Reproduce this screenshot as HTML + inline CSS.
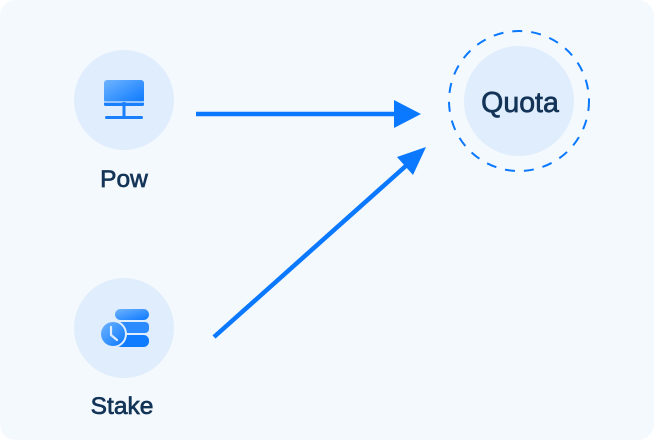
<!DOCTYPE html>
<html><head><style>
html,body{margin:0;padding:0;background:#fff;}
</style></head><body>
<svg width="654" height="440" viewBox="0 0 654 440" xmlns="http://www.w3.org/2000/svg" style="display:block">
<defs>
<linearGradient id="g" x1="0" y1="0" x2="1" y2="1">
<stop offset="0" stop-color="#6fb4ff"/><stop offset="1" stop-color="#0a78ff"/>
</linearGradient>
</defs>
<rect x="0" y="0" width="654" height="440" rx="16" fill="#f4f9fe"/>
<circle cx="124" cy="100" r="50" fill="#e0edfc"/>
<circle cx="124" cy="328" r="50" fill="#e0edfc"/>
<circle cx="519" cy="101" r="55" fill="#e0edfc"/>
<circle cx="519" cy="101" r="70" fill="none" stroke="#0a78ff" stroke-width="2" stroke-dasharray="10 9"/>
<!-- monitor icon -->
<rect x="104" y="80" width="40" height="23" rx="3" fill="url(#g)"/>
<rect x="104" y="101" width="40" height="5" rx="1.5" fill="#1a7ffd"/>
<line x1="104" y1="102" x2="144" y2="102" stroke="#e0edfc" stroke-width="1.2"/>
<rect x="122.5" y="102" width="3" height="14" fill="#1a7ffd"/>
<rect x="105" y="116" width="38" height="3" rx="1.5" fill="#1a7ffd"/>
<!-- stake icon -->
<rect x="115" y="309" width="34" height="11" rx="5.5" fill="url(#g)"/>
<rect x="115" y="322" width="34" height="11" rx="4" fill="#2a8aff"/>
<rect x="115" y="335" width="34" height="12" rx="5.5" fill="#0f7bff"/>
<circle cx="113" cy="334" r="14" fill="#e0edfc"/>
<circle cx="113" cy="334" r="12" fill="url(#g)"/>
<path d="M111 327 L111 335 L117 340" stroke="#e0edfc" stroke-width="2.2" fill="none" stroke-linecap="round" stroke-linejoin="round"/>
<!-- arrows -->
<line x1="196" y1="114" x2="398" y2="114" stroke="#0a78ff" stroke-width="4.5"/>
<polygon points="394,100 421,114 394,128" fill="#0a78ff"/>
<line x1="214" y1="337" x2="408" y2="164" stroke="#0a78ff" stroke-width="4.5"/>
<polygon points="426,147 413,175 397,157" fill="#0a78ff"/>
<g font-family="Liberation Sans, sans-serif" fill="#133457" stroke="#133457" stroke-width="0.7" text-anchor="middle">
<text x="124" y="187" font-size="24.5">Pow</text>
<text x="122" y="414" font-size="24.5">Stake</text>
<text x="520" y="112" font-size="28.5">Quota</text>
</g>
</svg>
</body></html>
